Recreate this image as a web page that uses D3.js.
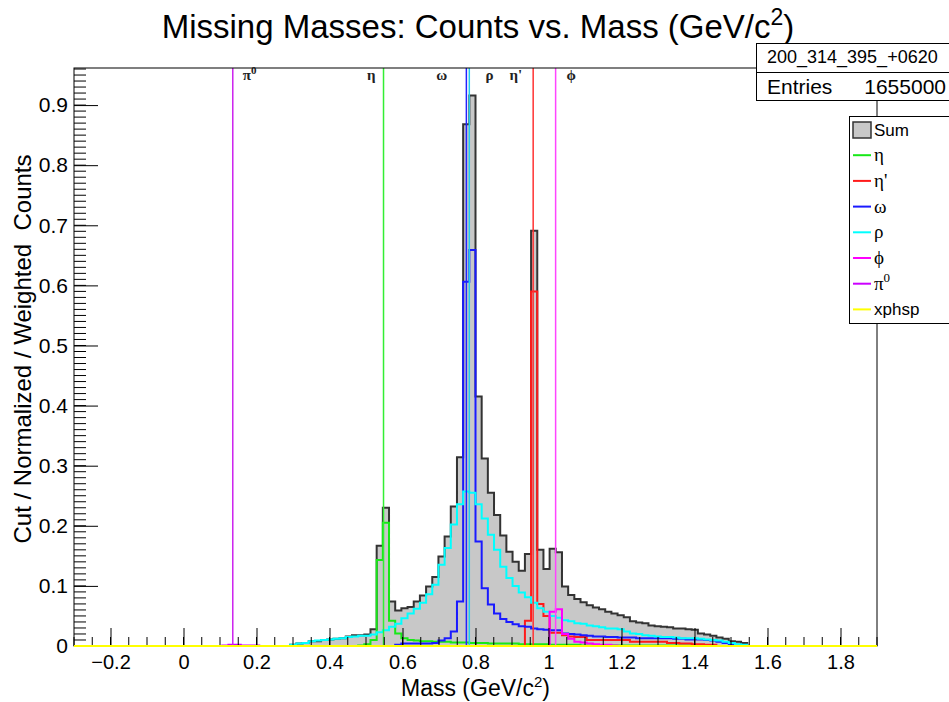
<!DOCTYPE html>
<html>
<head>
<meta charset="utf-8">
<script src="https://cdn.jsdelivr.net/npm/d3@7"></script>
<style>
  body { margin: 0; background: #fff; }
  svg { display: block; font-family: "Liberation Sans", Arial, Helvetica, sans-serif; }
</style>
</head>
<body>
<div id="chart"></div>
<script>
// Binning of the missing mass histograms (GeV/c^2)
const xMin = -0.3
const xMax = 1.9
const nBins = 130

// Bin contents. Each list starts at the bin index given by *Start, other bins are empty
const sumStart = 35
const sumCounts = [
  0.002, 0.004, 0.005, 0.008, 0.008, 0.010, 0.011, 0.012, 0.013, 0.016,
  0.018, 0.018, 0.019, 0.028, 0.167, 0.230, 0.074, 0.059, 0.063, 0.065,
  0.074, 0.084, 0.099, 0.115, 0.149, 0.182, 0.232, 0.314, 0.868, 0.916,
  0.415, 0.312, 0.255, 0.218, 0.184, 0.157, 0.140, 0.125, 0.153, 0.691,
  0.160, 0.128, 0.162, 0.156, 0.099, 0.085, 0.078, 0.073, 0.068, 0.064,
  0.061, 0.057, 0.054, 0.051, 0.048, 0.041, 0.039, 0.038, 0.034, 0.033,
  0.032, 0.031, 0.029, 0.029, 0.028, 0.027, 0.021, 0.019, 0.017, 0.014,
  0.012, 0.008, 0.007, 0.005
]

const etaStart = 46
const etaCounts = [
  0.001, 0.003, 0.010, 0.143, 0.205, 0.042, 0.021, 0.013, 0.010, 0.009,
  0.008, 0.008, 0.007, 0.007, 0.007, 0.006, 0.006, 0.006, 0.005, 0.005,
  0.005, 0.004, 0.004, 0.004, 0.004, 0.004, 0.003, 0.003, 0.003, 0.003,
  0.003, 0.002, 0.002, 0.002, 0.002, 0.002, 0.001, 0.001, 0.001, 0.001,
  0.001, 0.001, 0.001, 0.001, 0.001, 0.001, 0.001, 0.001, 0.001, 0.001,
  0.001, 0.001, 0.001, 0.001, 0.001
]

const etaPrimeStart = 73
const etaPrimeCounts = [
  0.042, 0.590, 0.070, 0.050, 0.022, 0.022, 0.018, 0.016, 0.015, 0.015,
  0.010, 0.010, 0.010, 0.010, 0.010, 0.010, 0.010, 0.007, 0.007, 0.007,
  0.007, 0.007, 0.007, 0.005, 0.005, 0.004, 0.004, 0.003, 0.003, 0.002,
  0.002
]

const omegaStart = 52
const omegaCounts = [
  0.002, 0.004, 0.004, 0.004, 0.004, 0.004, 0.005, 0.009, 0.013, 0.024,
  0.074, 0.606, 0.659, 0.174, 0.096, 0.069, 0.054, 0.045, 0.040, 0.036,
  0.033, 0.032, 0.029, 0.028, 0.027, 0.026, 0.026, 0.021, 0.020, 0.019,
  0.018, 0.017, 0.016, 0.016, 0.015, 0.015, 0.014, 0.014, 0.014, 0.013,
  0.013, 0.013, 0.013, 0.013, 0.013, 0.012, 0.012, 0.011, 0.011, 0.011,
  0.010, 0.009, 0.007, 0.005, 0.003, 0.002, 0.001
]

const rhoStart = 35
const rhoCounts = [
  0.002, 0.004, 0.005, 0.008, 0.009, 0.010, 0.011, 0.012, 0.013, 0.015,
  0.016, 0.017, 0.017, 0.019, 0.023, 0.026, 0.032, 0.037, 0.046, 0.054,
  0.062, 0.072, 0.086, 0.102, 0.135, 0.163, 0.202, 0.236, 0.257, 0.255,
  0.236, 0.212, 0.185, 0.160, 0.132, 0.113, 0.100, 0.089, 0.081, 0.072,
  0.063, 0.057, 0.050, 0.047, 0.043, 0.041, 0.038, 0.037, 0.034, 0.033,
  0.031, 0.029, 0.029, 0.028, 0.024, 0.021, 0.020, 0.018, 0.017, 0.016,
  0.015, 0.015, 0.014, 0.013, 0.013, 0.013, 0.012, 0.011, 0.010, 0.009,
  0.007, 0.005, 0.003, 0.002
]

const phiStart = 77
const phiCounts = [0.057, 0.061, 0.020, 0.012, 0.007, 0.006, 0.004, 0.003, 0.002, 0.002, 0.001]

const pi0Start = 24
const pi0Counts = [0.001, 0.002, 0.002, 0.001, 0.001, 0.001]

const xphspStart = 0
const xphspCounts = []

// Nominal masses marked with vertical lines
const markerNames = ['π', 'η', 'ω', 'ρ', 'η\'', 'ϕ']
const markerSup = ['0', '', '', '', '', '']
const markerMass = [0.135, 0.548, 0.783, 0.775, 0.958, 1.0195]

// Axis ticks
const xTickValues = [-0.2, 0, 0.2, 0.4, 0.6, 0.8, 1, 1.2, 1.4, 1.6, 1.8]
const yTickValues = [0, 0.1, 0.2, 0.3, 0.4, 0.5, 0.6, 0.7, 0.8, 0.9]
const yMax = 0.9617

// Stats box
const statsName = '200_314_395_+0620'
const statsEntries = '1655000'

// ---------------------------------------------------------------

const width = 949
const height = 702
const margin = { top: 68, right: 72, bottom: 56, left: 74 }
const innerWidth = width - margin.left - margin.right
const innerHeight = height - margin.top - margin.bottom

const svg = d3.select('#chart')
  .append('svg')
  .attr('width', width)
  .attr('height', height)

svg.append('rect').attr('width', width).attr('height', height).attr('fill', '#fff')

const g = svg.append('g')
  .attr('transform', `translate(${margin.left}, ${margin.top})`)

const x = d3.scaleLinear().domain([xMin, xMax]).range([0, innerWidth])
const y = d3.scaleLinear().domain([0, yMax]).range([innerHeight, 0])

const binW = (xMax - xMin) / nBins
const edges = d3.range(nBins + 1).map(i => xMin + i * binW)

// pad a partial list out to all bins
function fullBins (start, vals) {
  const out = new Array(nBins).fill(0)
  vals.forEach((v, i) => { out[start + i] = v })
  return out
}

function stepPoints (counts) {
  const pts = counts.map((c, i) => [edges[i], c])
  pts.push([edges[nBins], counts[nBins - 1]])
  return pts
}

const histLine = d3.line()
  .x(d => x(d[0]))
  .y(d => y(d[1]))
  .curve(d3.curveStepAfter)

const histArea = d3.area()
  .x(d => x(d[0]))
  .y0(y(0))
  .y1(d => y(d[1]))
  .curve(d3.curveStepAfter)

const components = [
  { name: 'η', counts: fullBins(etaStart, etaCounts), color: '#17e817' },
  { name: 'η\'', counts: fullBins(etaPrimeStart, etaPrimeCounts), color: '#ff1a1a' },
  { name: 'ω', counts: fullBins(omegaStart, omegaCounts), color: '#1a1aff' },
  { name: 'ρ', counts: fullBins(rhoStart, rhoCounts), color: '#00ffff' },
  { name: 'ϕ', counts: fullBins(phiStart, phiCounts), color: '#ff00ff' },
  { name: 'π', sup: '0', counts: fullBins(pi0Start, pi0Counts), color: '#cc00ff' },
  { name: 'xphsp', counts: fullBins(xphspStart, xphspCounts), color: '#ffff00', latin: true }
]

const sumData = stepPoints(fullBins(sumStart, sumCounts))

// Sum histogram, filled grey
g.append('path')
  .datum(sumData)
  .attr('fill', '#c8c8c8')
  .attr('d', histArea)

g.append('path')
  .datum(sumData)
  .attr('fill', 'none')
  .attr('stroke', '#333')
  .attr('stroke-width', 2)
  .attr('d', histLine)

// Component histograms
components.forEach(c => {
  g.append('path')
    .datum(stepPoints(c.counts))
    .attr('fill', 'none')
    .attr('stroke', c.color)
    .attr('stroke-width', 2)
    .attr('d', histLine)
})

// Marker lines and their labels (blue line sits at the rho mass, cyan at omega)
const markerColors = ['#cc22ee', '#33ee33', '#22ccee', '#2222ff', '#ff3333', '#ff44ff']
const markerDx = [10, -8, -22, 19, -11, 11]

markerMass.forEach((m, i) => {
  g.append('line')
    .attr('x1', x(m)).attr('x2', x(m))
    .attr('y1', y(0)).attr('y2', y(yMax))
    .attr('stroke', markerColors[i])
    .attr('stroke-width', 1.5)
})

markerNames.forEach((n, i) => {
  const t = g.append('text')
    .attr('x', x(markerMass[i]) + markerDx[i])
    .attr('y', 12)
    .attr('text-anchor', markerDx[i] > 0 ? 'start' : 'end')
    .attr('font-family', '"Liberation Serif", "DejaVu Serif", serif')
    .attr('font-weight', 'bold')
    .attr('font-size', 15)
    .attr('fill', '#222')
    .text(n)
  if (markerSup[i]) {
    t.append('tspan').attr('dy', -6).attr('font-size', 11).text(markerSup[i])
  }
})

// minor ticks drawn as plain lines, no labels
const xMinor = d3.range(-6, 39).map(i => i * 0.05)
const yMinor = d3.range(0, 97).map(i => i * 0.01)

g.append('g')
  .selectAll('line')
  .data(xMinor)
  .join('line')
  .attr('x1', d => x(d)).attr('x2', d => x(d))
  .attr('y1', innerHeight).attr('y2', innerHeight - 9)
  .attr('stroke', '#000')

g.append('g')
  .selectAll('line')
  .data(yMinor)
  .join('line')
  .attr('x1', 0).attr('x2', 12)
  .attr('y1', d => y(d)).attr('y2', d => y(d))
  .attr('stroke', '#000')

// X axis, major ticks
g.append('g')
  .attr('transform', `translate(0, ${innerHeight})`)
  .call(d3.axisBottom(x)
    .tickValues(xTickValues)
    .tickSize(-18)
    .tickPadding(9)
    .tickFormat(d3.format('~g')))
  .call(a => a.select('.domain').remove())
  .call(a => a.selectAll('text')
    .attr('font-size', 20)
    .attr('fill', '#000')
    .attr('font-family', '"Liberation Sans", Arial, sans-serif'))

// Y axis, major ticks
g.append('g')
  .call(d3.axisLeft(y)
    .tickValues(yTickValues)
    .tickSize(-24)
    .tickPadding(6)
    .tickFormat(d3.format('~g')))
  .call(a => a.select('.domain').remove())
  .call(a => a.selectAll('text')
    .attr('font-size', 21)
    .attr('fill', '#000')
    .attr('font-family', '"Liberation Sans", Arial, sans-serif'))

g.selectAll('.tick line').attr('stroke', '#000')

// Frame
g.append('rect')
  .attr('x', 0).attr('y', 0)
  .attr('width', innerWidth).attr('height', innerHeight)
  .attr('fill', 'none')
  .attr('stroke', '#000')
  .attr('stroke-width', 1)

// xphsp is empty: its line lies on the baseline over everything
g.append('path')
  .datum(stepPoints(components[6].counts))
  .attr('fill', 'none')
  .attr('stroke', '#ffff00')
  .attr('stroke-width', 2)
  .attr('d', histLine)

// Title
const title = svg.append('text')
  .attr('x', 478)
  .attr('y', 38)
  .attr('text-anchor', 'middle')
  .attr('font-size', 33)
  .attr('fill', '#000')
  .text('Missing Masses: Counts vs. Mass (GeV/c')
title.append('tspan').attr('dy', -13).attr('font-size', 23).text('2')
title.append('tspan').attr('dy', 13).text(')')

// Axis titles
const xTitle = svg.append('text')
  .attr('x', margin.left + innerWidth / 2)
  .attr('y', 696)
  .attr('text-anchor', 'middle')
  .attr('font-size', 23)
  .text('Mass (GeV/c')
xTitle.append('tspan').attr('dy', -9).attr('font-size', 15).text('2')
xTitle.append('tspan').attr('dy', 9).text(')')

svg.append('text')
  .attr('transform', 'translate(31, 349) rotate(-90)')
  .attr('text-anchor', 'middle')
  .attr('font-size', 24)
  .style('white-space', 'pre')
  .text('Cut / Normalized / Weighted  Counts')

// Stats box
svg.append('rect')
  .attr('x', 756.5).attr('y', 43.5)
  .attr('width', 210).attr('height', 57)
  .attr('fill', '#fff').attr('stroke', '#000')
svg.append('line')
  .attr('x1', 756.5).attr('x2', 966)
  .attr('y1', 72.5).attr('y2', 72.5)
  .attr('stroke', '#000')
svg.append('text')
  .attr('x', 767).attr('y', 63)
  .attr('font-size', 18)
  .text(statsName)
svg.append('text')
  .attr('x', 767).attr('y', 94)
  .attr('font-size', 21)
  .text('Entries')
svg.append('text')
  .attr('x', 946).attr('y', 94)
  .attr('text-anchor', 'end')
  .attr('font-size', 21)
  .text(statsEntries)

// Legend
const legend = svg.append('g')
legend.append('rect')
  .attr('x', 849.5).attr('y', 116.5)
  .attr('width', 120).attr('height', 207)
  .attr('fill', '#fff').attr('stroke', '#000')

const rowH = 25.7
const row0 = 129.5

legend.append('rect')
  .attr('x', 853).attr('y', row0 - 7.5)
  .attr('width', 18).attr('height', 16)
  .attr('fill', '#c8c8c8').attr('stroke', '#333').attr('stroke-width', 1.5)
legend.append('text')
  .attr('x', 874).attr('y', row0 + 6)
  .attr('font-size', 17)
  .text('Sum')

components.forEach((c, i) => {
  const cy = row0 + (i + 1) * rowH
  legend.append('line')
    .attr('x1', 853).attr('x2', 871)
    .attr('y1', cy).attr('y2', cy)
    .attr('stroke', c.color)
    .attr('stroke-width', 2)
  const t = legend.append('text')
    .attr('x', 874).attr('y', cy + 6)
    .attr('font-size', c.latin ? 17 : 19)
    .attr('font-family', c.latin ? null : '"Liberation Serif", "DejaVu Serif", serif')
    .text(c.name)
  if (c.sup) t.append('tspan').attr('dy', -8).attr('font-size', 13).text(c.sup)
})
</script>
</body>
</html>
